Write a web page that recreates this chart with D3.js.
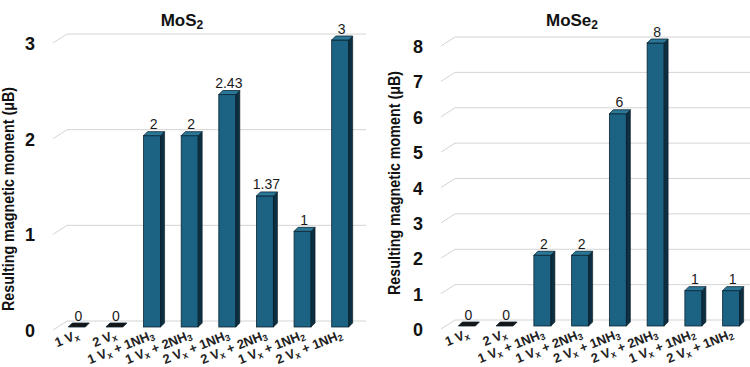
<!DOCTYPE html>
<html>
<head>
<meta charset="utf-8">
<script src="https://cdn.jsdelivr.net/npm/d3@7"></script>
<style>
  body { margin: 0; background: #fff; }
  svg { display: block; font-family: "Liberation Sans", Arial, sans-serif; }
</style>
</head>
<body>
<script>
const width = 750;
const height = 367;

// categories shared by both panels (x = subscript after V, digit after H = subscript)
const categories = [
  '1 Vx', '2 Vx', '1 Vx + 1NH3', '1 Vx + 2NH3',
  '2 Vx + 1NH3', '2 Vx + 2NH3', '1 Vx + 1NH2', '2 Vx + 1NH2'
];
const mos2Values = [0, 0, 2, 2, 2.43, 1.37, 1, 3];
const mos2Labels = ['0', '0', '2', '2', '2.43', '1.37', '1', '3'];
const mos2Ticks = [0, 1, 2, 3];

const mose2Values = [0, 0, 2, 2, 6, 8, 1, 1];
const mose2Labels = ['0', '0', '2', '2', '6', '8', '1', '1'];
const mose2Ticks = [0, 1, 2, 3, 4, 5, 6, 7, 8];

const yTitle = 'Resulting magnetic moment (μB)';

const svg = d3.select('body').append('svg')
  .attr('width', width)
  .attr('height', height);

// split a label into normal / subscript pieces
const parts = s => {
  const out = [];
  [...s].forEach((c, i) => {
    const sub = c === 'x' || (/\d/.test(c) && s[i - 1] === 'H');
    const last = out[out.length - 1];
    if (last && last.sub === sub) last.t += c;
    else out.push({ t: c, sub });
  });
  return out;
};

const addRich = (text, str, subSize) => {
  parts(str).forEach(p => {
    const ts = text.append('tspan').text(p.t);
    if (p.sub) ts.attr('font-size', subSize).attr('baseline-shift', '-25%');
  });
};

function drawPanel(cfg) {
  const g = svg.append('g');
  const y = d3.scaleLinear().domain(cfg.domain).range([cfg.floor, cfg.top]);
  const x = d3.scaleBand().domain(categories).range(cfg.xRange);

  const gdx = 14, gdy = 9;   // floor / wall depth
  const bw = 17, bd = 4;     // bar width and depth
  const off = 6;             // bar front offset below gridline

  // gridlines with 3D wall diagonal
  const grid = g.append('g').attr('stroke', '#d4d4d4').attr('fill', 'none');
  cfg.ticks.forEach(t => {
    grid.append('path')
      .attr('d', `M${cfg.gridX0 - gdx},${y(t) + gdy}L${cfg.gridX0},${y(t)}H${cfg.gridX1}`);
  });

  // tick labels
  g.append('g').selectAll('text').data(cfg.ticks).join('text')
    .attr('x', cfg.tickX)
    .attr('y', d => y(d) + 16)
    .attr('text-anchor', 'middle')
    .attr('font-size', 18)
    .attr('font-weight', 'bold')
    .attr('fill', '#111')
    .text(d => d);

  // bars
  const bars = g.append('g').selectAll('g').data(cfg.values).join('g');
  bars.each(function (v, i) {
    const b = d3.select(this);
    const cx = x(categories[i]) + x.bandwidth() / 2;
    const xl = cx - bw / 2, xr = cx + bw / 2;
    const yt = y(v) + off, yb = y(0) + off;
    if (v > 0) {
      b.append('rect')
        .attr('x', xl).attr('y', yt).attr('width', bw).attr('height', yb - yt)
        .attr('fill', '#1b6283').attr('stroke', '#0b2533').attr('stroke-width', 0.8);
      b.append('path')
        .attr('d', `M${xr},${yt}L${xr + bd},${yt - bd}V${yb - bd}L${xr},${yb}Z`)
        .attr('fill', '#0c2f42').attr('stroke', '#06141c').attr('stroke-width', 0.6);
    }
    b.append('path')
      .attr('d', `M${xl},${yt}L${xl + bd},${yt - bd}H${xr + bd}L${xr},${yt}Z`)
      .attr('fill', v > 0 ? '#2a7797' : '#151515')
      .attr('stroke', '#0b2533').attr('stroke-width', 0.8);
  });

  // value labels
  g.append('g').selectAll('text').data(cfg.values).join('text')
    .attr('x', (d, i) => x(categories[i]) + x.bandwidth() / 2 + 1.5)
    .attr('y', d => y(d) - 0.5)
    .attr('text-anchor', 'middle')
    .attr('font-size', 14)
    .attr('fill', '#1a1a1a')
    .text((d, i) => cfg.labels[i]);

  // category labels, rotated
  g.append('g').selectAll('text').data(categories).join('text')
    .attr('transform', d => `translate(${x(d) + x.bandwidth() / 2 + 3},${y(0) + 17}) rotate(-22)`)
    .attr('text-anchor', 'end')
    .attr('font-size', 13)
    .attr('font-weight', 'bold')
    .attr('fill', '#222')
    .each(function (d) { addRich(d3.select(this), d, 9); });

  // title
  const title = g.append('text')
    .attr('x', cfg.titleX).attr('y', 26)
    .attr('text-anchor', 'middle')
    .attr('font-size', 17)
    .attr('font-weight', 'bold')
    .attr('fill', '#111');
  title.append('tspan').text(cfg.title);
  title.append('tspan').text('2').attr('font-size', 12).attr('baseline-shift', '-25%');

  // y axis title
  g.append('text')
    .attr('transform', `translate(${cfg.yTitleX},${cfg.yTitleY}) rotate(-90)`)
    .attr('text-anchor', 'middle')
    .attr('font-size', 16)
    .attr('font-weight', 'bold')
    .attr('fill', '#111')
    .attr('textLength', 224)
    .attr('lengthAdjust', 'spacingAndGlyphs')
    .text(yTitle);
}

drawPanel({
  title: 'MoS', titleX: 182,
  values: mos2Values, labels: mos2Labels, ticks: mos2Ticks,
  domain: [0, 3], floor: 321, top: 34,
  xRange: [58, 359], gridX0: 67, gridX1: 366,
  tickX: 30, yTitleX: 14, yTitleY: 199
});

drawPanel({
  title: 'MoSe', titleX: 572,
  values: mose2Values, labels: mose2Labels, ticks: mose2Ticks,
  domain: [0, 8], floor: 320, top: 37,
  xRange: [448, 750], gridX0: 455, gridX1: 750,
  tickX: 418, yTitleX: 400, yTitleY: 183
});
</script>
</body>
</html>
